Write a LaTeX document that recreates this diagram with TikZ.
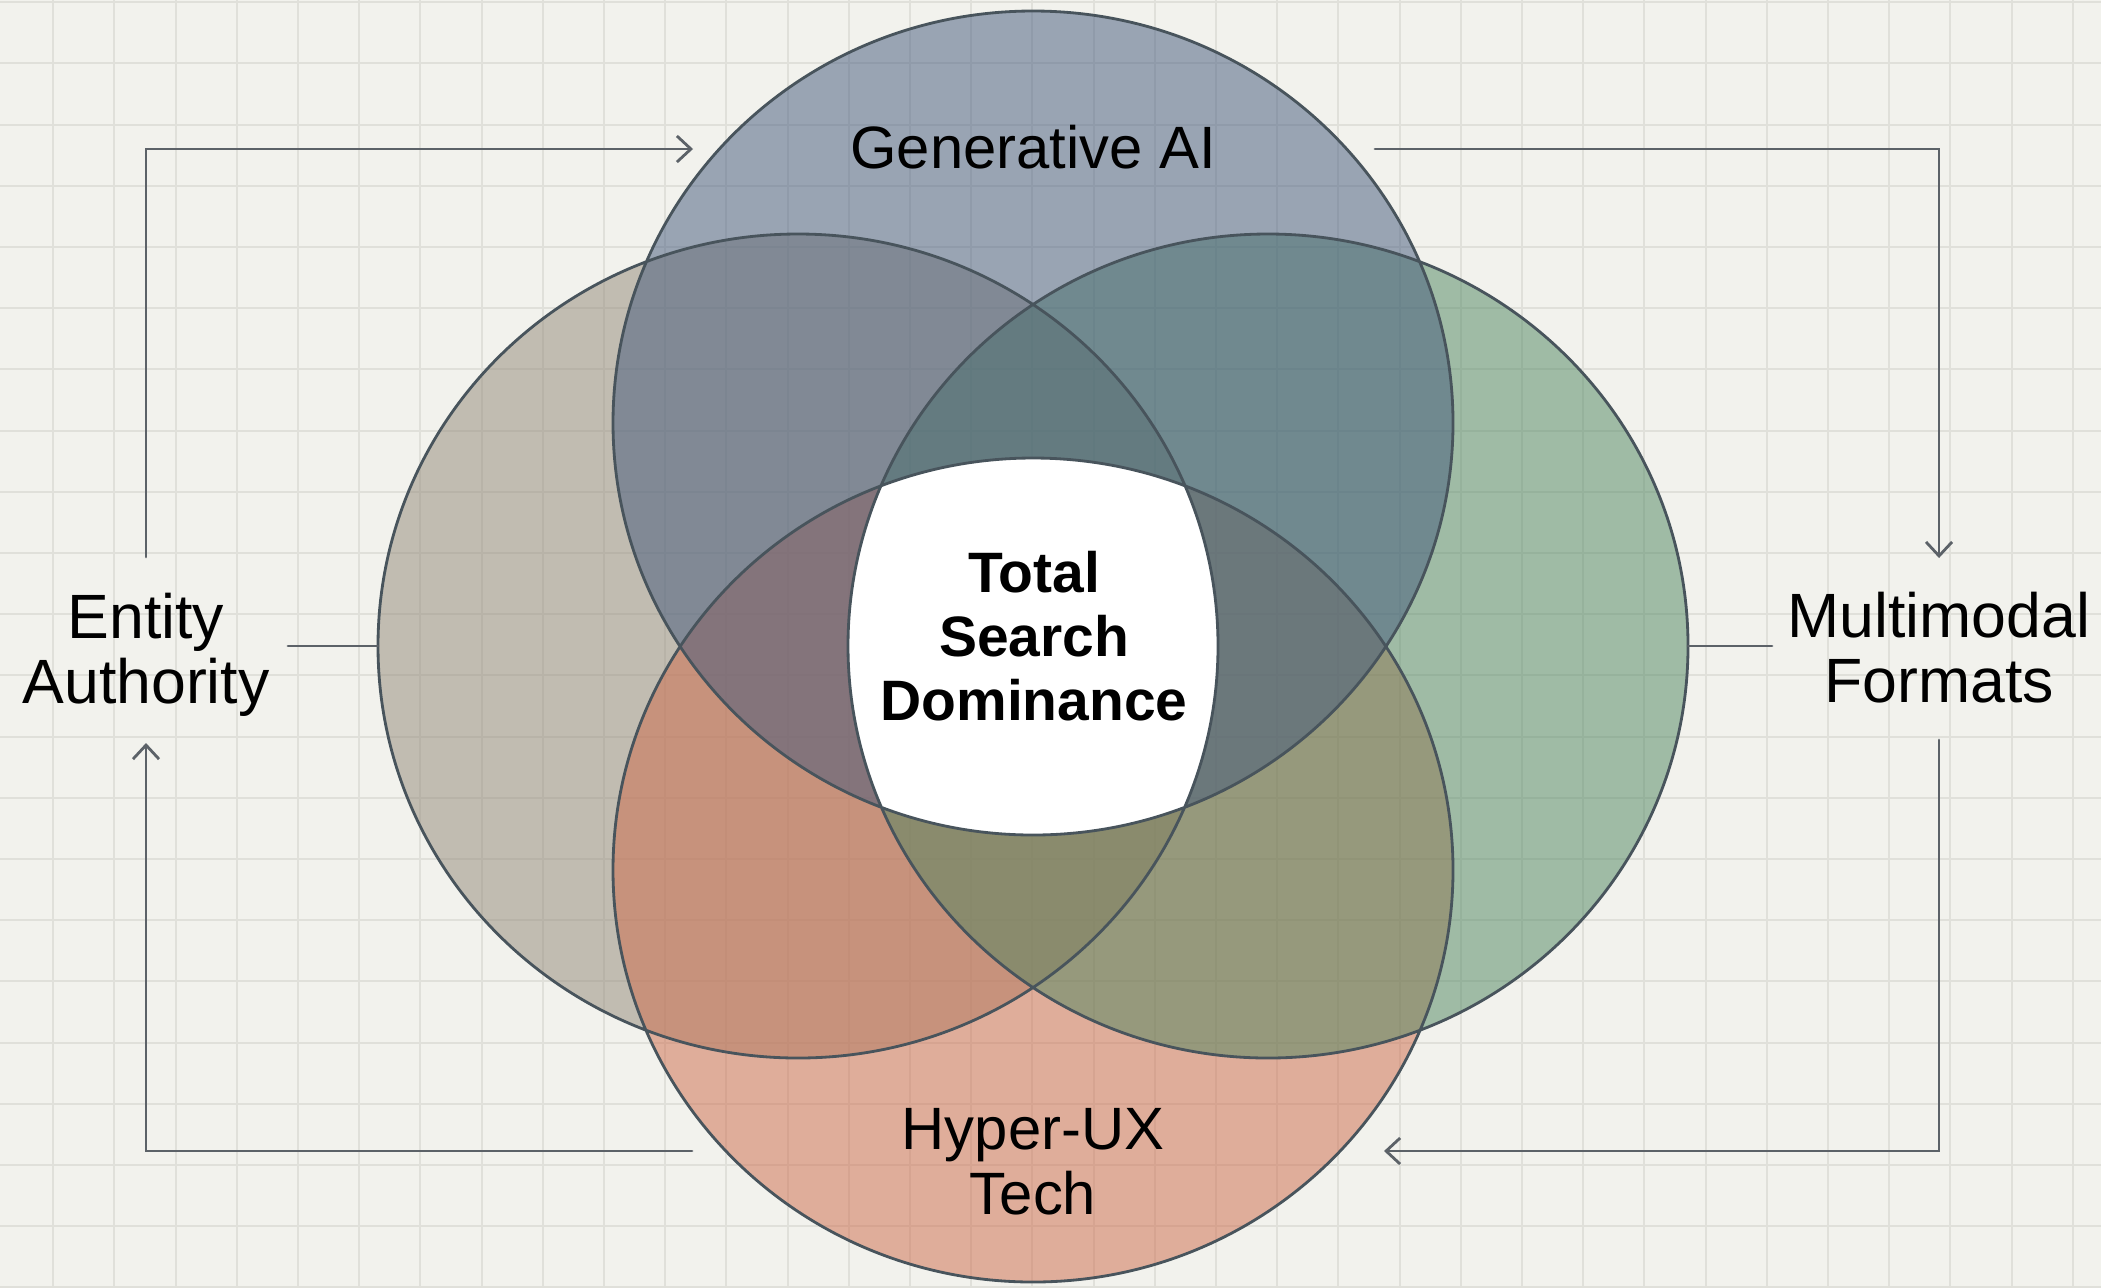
\documentclass[tikz,border=0pt]{standalone}
\usepackage{fontspec}
\setmainfont{Liberation Sans}
\usetikzlibrary{arrows.meta}
\definecolor{paper}{RGB}{242,242,237}
\definecolor{gridgray}{RGB}{224,224,218}
\definecolor{rimgray}{RGB}{72,84,92}
\definecolor{flowgray}{RGB}{92,98,104}
\definecolor{genblue}{RGB}{66,88,123}
\definecolor{mmgreen}{RGB}{78,134,95}
\definecolor{entbeige}{RGB}{146,136,119}
\definecolor{uxsalmon}{RGB}{206,106,73}

\begin{document}
\begin{tikzpicture}[x=0.01cm,y=-0.01cm,line cap=round,
        >={Straight Barb[length=0.14cm,width=0.26cm]},
        ring/.style={x radius=420,y radius=412},
        venn/.style={fill opacity=0.5},
        rim/.style={draw=rimgray,line width=0.8pt},
        flow/.style={draw=flowgray,line width=0.8pt},
        lbl/.style={align=center,text=black,font=\fontsize{17}{18.5}\selectfont},
        side/.style={lbl,font=\fontsize{17.8}{18.5}\selectfont}]
        % paper and grid
        \fill[paper] (0,0) rectangle (2101,1287);
        \useasboundingbox (0,0) rectangle (2101,1287);
        \foreach \i in {0,...,33}
            \draw[gridgray,line width=0.6pt] (53.2+\i*61.2,0) -- (53.2+\i*61.2,1287);
        \foreach \j in {0,...,21}
            \draw[gridgray,line width=0.6pt] (0,2.2+\j*61.2) -- (2101,2.2+\j*61.2);

        % the four circles, left - bottom - right - top
        \fill[venn,entbeige] (798,646) circle[ring];
        \fill[venn,uxsalmon] (1033,870) circle[ring];
        \fill[venn,mmgreen] (1268,646) circle[ring];
        \fill[venn,genblue] (1033,423) circle[ring];

        % white core where all four meet
        \begin{scope}
            \clip (798,646) circle[ring];
            \clip (1268,646) circle[ring];
            \clip (1033,423) circle[ring];
            \fill[white] (1033,870) circle[ring];
        \end{scope}

        \draw[rim] (798,646) circle[ring]
                   (1033,870) circle[ring]
                   (1268,646) circle[ring]
                   (1033,423) circle[ring];

        % labels
        \node[lbl,anchor=base] (gen) at (1033,168) {Generative AI};
        \node[lbl] (hux) at (1033,1162) {Hyper-UX\\Tech};
        \node[side] (ent) at (146,655) {Entity\\Authority};
        \node[side] (mm) at (1939,648) {Multimodal\\Formats};
        \node[lbl,font=\bfseries\fontsize{16.2}{18.2}\selectfont] (tsd) at (1034,636) {Total\\Search\\Dominance};

        % loose ends of the loop
        \coordinate (ent-n) at (146,557);
        \coordinate (ent-s) at (146,743);
        \coordinate (gen-w) at (693,149);
        \coordinate (gen-e) at (1375,149);
        \coordinate (mm-n) at (1939,558);
        \coordinate (mm-s) at (1939,740);
        \coordinate (hux-e) at (1384,1151);
        \coordinate (hux-w) at (692,1151);
        \coordinate (lc-w) at (378,646);
        \coordinate (rc-e) at (1688,646);

        % the loop round the diagram
        \draw[flow,->] (ent-n) |- (gen-w);
        \draw[flow,->] (gen-e) -| (mm-n);
        \draw[flow,->] (mm-s) |- (hux-e);
        \draw[flow,->] (hux-w) -| (ent-s);

        % ticks from the side labels to their circles
        \draw[flow] (288,646) -- (lc-w);
        \draw[flow] (1772,646) -- (rc-e);
\end{tikzpicture}
\end{document}
